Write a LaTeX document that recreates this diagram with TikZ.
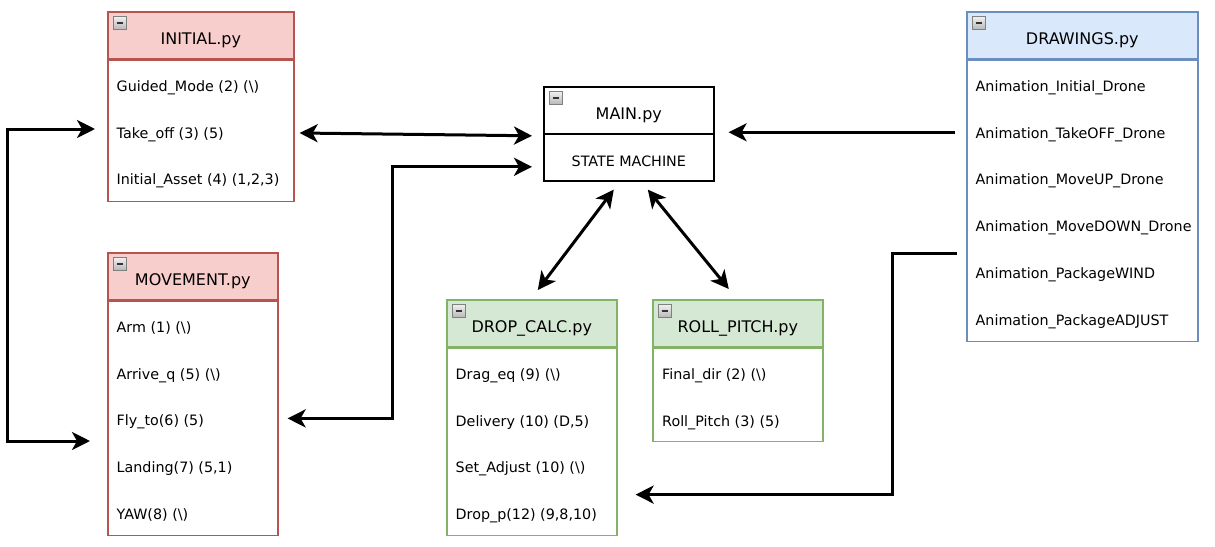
\documentclass[tikz,border=0pt]{standalone}
\usepackage{fontspec}
\setmainfont{DejaVu Sans}
\usetikzlibrary{arrows.meta, positioning}
\definecolor{redfill}{HTML}{F8CECC}
\definecolor{redline}{HTML}{B85450}
\definecolor{greenfill}{HTML}{D5E8D4}
\definecolor{greenline}{HTML}{82B366}
\definecolor{bluefill}{HTML}{DAE8FC}
\definecolor{blueline}{HTML}{6C8EBF}
\tikzset{
x=1pt, y=-1pt, % one unit is one pixel of the sketch, y runs down
>={Stealth[length=18pt, width=18pt, inset=5pt]}, % heavy arrow heads
every node/.style={font=\fontsize{14.3pt}{17pt}\selectfont},
head/.style={draw, line width=1.6pt, anchor=north west, minimum height=47pt, inner sep=0pt}, % coloured title bar
body/.style={draw, line width=1.6pt, fill=white, inner sep=0pt}, % white list below the bar
title/.style={anchor=base, font=\fontsize{16pt}{19pt}\selectfont},
item/.style={anchor=west, inner sep=0pt, text height=10.4pt, text depth=0pt},
link/.style={line width=3pt, ->},
both/.style={line width=3pt, <->},
collapse/.pic={
  \draw[draw=gray, top color=gray!10, bottom color=gray!55] (0,0) rectangle (13,13);
  \draw[line width=2pt, black!80] (3.5,6.5) -- (9.5,6.5);
}
}

\begin{document}
\begin{tikzpicture}
  \useasboundingbox (0,0) rectangle (1215,546);

  % INITIAL.py
  \node[head, fill=redfill, draw=redline, minimum width=186pt] (initial) at (107,11) {};
  \node[body, draw=redline, minimum width=186pt, minimum height=141pt, below=0pt of initial] (initialbody) {};
  \pic at ([shift={(6,5)}]initial.north west) {collapse};
  \node[title] (initialtitle) at ([yshift=-33.5pt]initial.north) {INITIAL.py};
  \node[item] (guided) at ([shift={(9.5,75.3)}]initial.north west) {Guided\_Mode (2) (\textbackslash)};
  \node[item] (takeoff) at ([yshift=-46.7pt]guided.west) {Take\_off (3) (5)};
  \node[item] (asset) at ([yshift=-46.7pt]takeoff.west) {Initial\_Asset (4) (1,2,3)};

  % MOVEMENT.py
  \node[head, fill=redfill, draw=redline, minimum width=170pt] (movement) at (107,252) {};
  \node[body, draw=redline, minimum width=170pt, minimum height=234pt, below=0pt of movement] (movementbody) {};
  \pic at ([shift={(6,5)}]movement.north west) {collapse};
  \node[title] (movementtitle) at ([yshift=-33.5pt]movement.north) {MOVEMENT.py};
  \node[item] (arm) at ([shift={(9.5,75.3)}]movement.north west) {Arm (1) (\textbackslash)};
  \node[item] (arrive) at ([yshift=-46.7pt]arm.west) {Arrive\_q (5) (\textbackslash)};
  \node[item] (flyto) at ([yshift=-46.7pt]arrive.west) {Fly\_to(6) (5)};
  \node[item] (landing) at ([yshift=-46.7pt]flyto.west) {Landing(7) (5,1)};
  \node[item] (yaw) at ([yshift=-46.7pt]landing.west) {YAW(8) (\textbackslash)};

  % MAIN.py
  \node[body, anchor=north west, minimum width=170pt, minimum height=94pt] (main) at (543,86) {};
  \draw[line width=1.6pt] (main.west) -- (main.east);
  \pic at ([shift={(6,5)}]main.north west) {collapse};
  \node[title] (maintitle) at ([yshift=-33.5pt]main.north) {MAIN.py};
  \node[item, anchor=center] (machine) at ([yshift=-27pt]main.center) {STATE MACHINE};

  % DROP_CALC.py
  \node[head, fill=greenfill, draw=greenline, minimum width=170pt] (dropcalc) at (446,299) {};
  \node[body, draw=greenline, minimum width=170pt, minimum height=187pt, below=0pt of dropcalc] (dropcalcbody) {};
  \pic at ([shift={(6,5)}]dropcalc.north west) {collapse};
  \node[title] (dropcalctitle) at ([yshift=-33.5pt]dropcalc.north) {DROP\_CALC.py};
  \node[item] (drag) at ([shift={(9.5,75.3)}]dropcalc.north west) {Drag\_eq (9) (\textbackslash)};
  \node[item] (delivery) at ([yshift=-46.7pt]drag.west) {Delivery (10) (D,5)};
  \node[item] (setadjust) at ([yshift=-46.7pt]delivery.west) {Set\_Adjust (10) (\textbackslash)};
  \node[item] (dropp) at ([yshift=-46.7pt]setadjust.west) {Drop\_p(12) (9,8,10)};

  % ROLL_PITCH.py
  \node[head, fill=greenfill, draw=greenline, minimum width=170pt] (rollpitch) at (652,299) {};
  \node[body, draw=greenline, minimum width=170pt, minimum height=93pt, below=0pt of rollpitch] (rollpitchbody) {};
  \pic at ([shift={(6,5)}]rollpitch.north west) {collapse};
  \node[title] (rollpitchtitle) at ([yshift=-33.5pt]rollpitch.north) {ROLL\_PITCH.py};
  \node[item] (finaldir) at ([shift={(10,75.3)}]rollpitch.north west) {Final\_dir (2) (\textbackslash)};
  \node[item] (rollitem) at ([yshift=-46.7pt]finaldir.west) {Roll\_Pitch (3) (5)};

  % DRAWINGS.py
  \node[head, fill=bluefill, draw=blueline, minimum width=231pt] (drawings) at (966,11) {};
  \node[body, draw=blueline, minimum width=231pt, minimum height=281pt, below=0pt of drawings] (drawingsbody) {};
  \pic at ([shift={(6,5)}]drawings.north west) {collapse};
  \node[title] (drawingstitle) at ([yshift=-33.5pt]drawings.north) {DRAWINGS.py};
  \node[item] (aniinit) at ([shift={(9.5,75.3)}]drawings.north west) {Animation\_Initial\_Drone};
  \node[item] (anitake) at ([yshift=-46.7pt]aniinit.west) {Animation\_TakeOFF\_Drone};
  \node[item] (aniup) at ([yshift=-46.7pt]anitake.west) {Animation\_MoveUP\_Drone};
  \node[item] (anidown) at ([yshift=-46.7pt]aniup.west) {Animation\_MoveDOWN\_Drone};
  \node[item] (aniwind) at ([yshift=-46.7pt]anidown.west) {Animation\_PackageWIND};
  \node[item] (aniadjust) at ([yshift=-46.7pt]aniwind.west) {Animation\_PackageADJUST};

  % connectors
  \coordinate (mainin) at ([xshift=-11pt,yshift=-33pt]main.west);
  \draw[both] ([xshift=5pt]takeoff.west -| initial.east) -- ([xshift=-11pt,yshift=-2pt]main.west);
  \draw[link] ([xshift=-11pt,yshift=1.5pt]main.east -| drawings.west) -- ([xshift=14pt,yshift=1.5pt]main.east);
  \draw[both] ([xshift=9pt]movementbody.east) -| ([xshift=-140pt]mainin) -- (mainin);
  \draw[both] ([xshift=-12pt,yshift=4pt]takeoff.west -| initial.west) -- ++(-88,0) |- ([xshift=-17pt,yshift=-20.3pt]flyto.west -| movement.west);
  \draw[both] ([xshift=-15pt,yshift=-8pt]main.south) -- ([xshift=6pt,yshift=9pt]dropcalc.north);
  \draw[both] ([xshift=19pt,yshift=-8pt]main.south) -- ([xshift=-9pt,yshift=10pt]rollpitch.north);
  \draw[link] ([xshift=-9pt,yshift=-194pt]drawingsbody.north west) -- ++(-65,0) |- ([xshift=18pt,yshift=-147pt]dropcalcbody.north east);
\end{tikzpicture}
\end{document}
